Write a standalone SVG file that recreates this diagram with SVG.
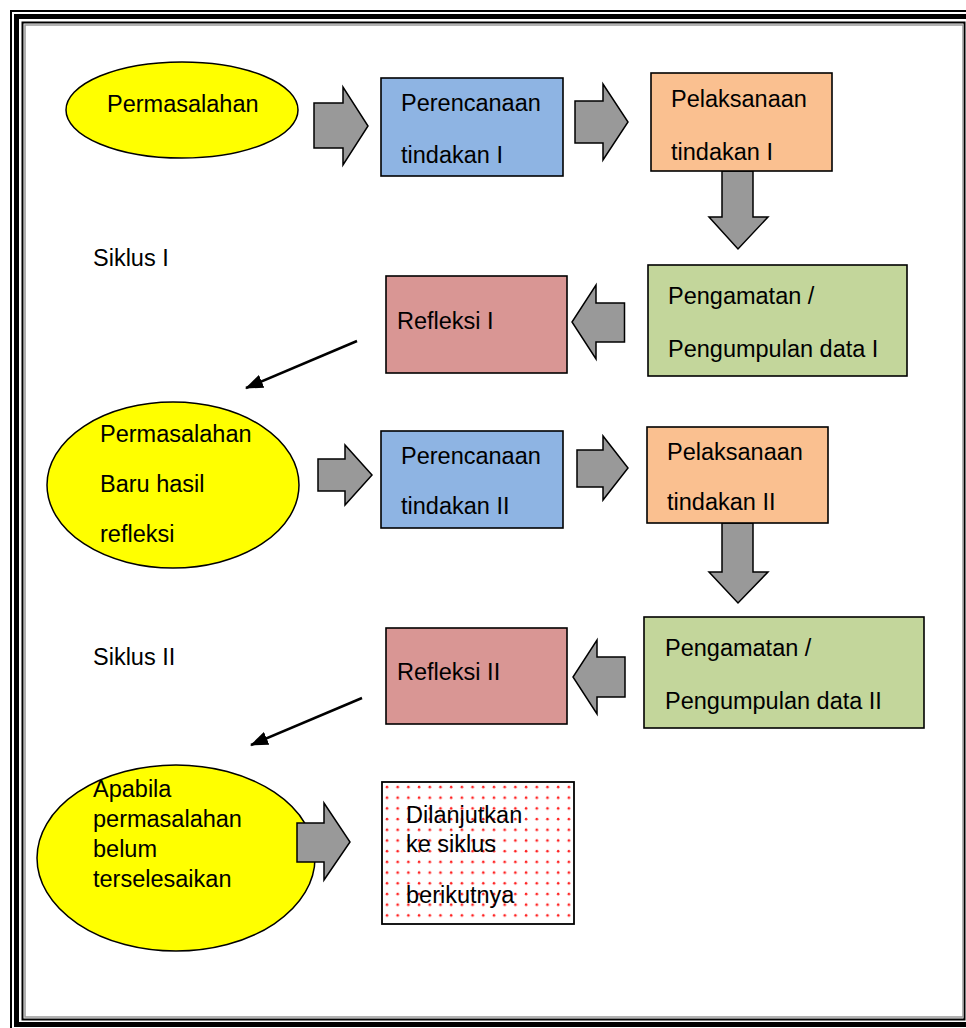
<svg xmlns="http://www.w3.org/2000/svg" width="966" height="1028" viewBox="0 0 966 1028">
<style>
text{font-family:"Liberation Sans",Arial,sans-serif;font-size:23.5px;fill:#000}
.ell{fill:#ffff00;stroke:#000;stroke-width:1.5}
.box{stroke:#000;stroke-width:1.6}
.blue{fill:#8eb4e3}.orange{fill:#fac090}.green{fill:#c3d69b}.red{fill:#d99694}
.blk{fill:#999;stroke:#000;stroke-width:1.5;stroke-linejoin:miter}
.thin{stroke:#000;stroke-width:2.5;fill:none}
</style>
<defs>
<pattern id="dots" x="382" y="782" width="10.7" height="10.7" patternUnits="userSpaceOnUse">
<circle cx="5" cy="5" r="1.3" fill="#ff2020"/>
</pattern>
<marker id="ah" markerWidth="10" markerHeight="8" refX="9" refY="4" orient="auto" markerUnits="userSpaceOnUse" viewBox="0 0 10 8">
<path d="M0,0 L10,4 L0,8 Z" fill="#000"/>
</marker>
<marker id="ah2" viewBox="0 0 18 14" refX="17" refY="7" markerWidth="18" markerHeight="14" orient="auto" markerUnits="userSpaceOnUse">
<path d="M0,0 L18,7 L0,14 Z" fill="#000"/>
</marker>
</defs>
<rect width="966" height="1028" fill="#fff"/>
<g id="frame" fill="none">
<rect x="11" y="11" width="970" height="1030" stroke="#000" stroke-width="2"/>
<rect x="16.5" y="16.5" width="960" height="1008" stroke="#000" stroke-width="5"/>
<rect x="22.5" y="22.5" width="942" height="997" stroke="#000" stroke-width="2"/>
<rect x="25" y="25" width="938" height="992" stroke="#999" stroke-width="1.5"/>
</g>
<g id="connectors">
<polygon class="blk" points="314,103 343,103 343,87 368,126 343,165 343,148 314,148"/>
<polygon class="blk" points="575,101 603,101 603,84 628,122 603,160 603,143 575,143"/>
<polygon class="blk" points="722,171 753,171 753,217 768,217 738,249 709,217 722,217"/>
<polygon class="blk" points="624.5,303 596,303 596,285 572,322 596,359 596,342 624.5,342"/>
<line class="thin" x1="357" y1="341" x2="246" y2="388" marker-end="url(#ah2)"/>
<polygon class="blk" points="318,459 345,459 345,445 372,475 345,505 345,491 318,491"/>
<polygon class="blk" points="577,450 603,450 603,436 628,468 603,500 603,487 577,487"/>
<polygon class="blk" points="722,523 753,523 753,572 768,572 738,603 709,572 722,572"/>
<polygon class="blk" points="625,657 597,657 597,640 573,677 597,714 597,697 625,697"/>
<line class="thin" x1="362" y1="698" x2="251" y2="745" marker-end="url(#ah2)"/>
</g>
<g id="n1"><ellipse class="ell" cx="182" cy="110" rx="116" ry="48"/><text x="107" y="112">Permasalahan</text></g>
<g id="n2"><rect class="box blue" x="381" y="78" width="182" height="98"/><text x="401" y="111">Perencanaan</text><text x="401" y="163">tindakan I</text></g>
<g id="n3"><rect class="box orange" x="651" y="73" width="181" height="98"/><text x="671" y="107">Pelaksanaan</text><text x="671" y="160">tindakan I</text></g>
<g id="n4"><rect class="box green" x="648" y="265" width="259" height="111"/><text x="668" y="304">Pengamatan /</text><text x="668" y="357">Pengumpulan data I</text></g>
<g id="n5"><rect class="box red" x="386" y="276" width="181" height="97"/><text x="397" y="329">Refleksi I</text></g>
<g id="lbl1"><text x="93" y="266">Siklus I</text></g>
<g id="n6"><ellipse class="ell" cx="173" cy="485" rx="126" ry="83"/><text x="100" y="442">Permasalahan</text><text x="100" y="492">Baru hasil</text><text x="100" y="542">refleksi</text></g>
<g id="n7"><rect class="box blue" x="381" y="431" width="182" height="97"/><text x="401" y="464">Perencanaan</text><text x="401" y="514">tindakan II</text></g>
<g id="n8"><rect class="box orange" x="647" y="427" width="181" height="96"/><text x="667" y="460">Pelaksanaan</text><text x="667" y="510">tindakan II</text></g>
<g id="n9"><rect class="box green" x="644" y="617" width="280" height="111"/><text x="665" y="656">Pengamatan /</text><text x="665" y="709">Pengumpulan data II</text></g>
<g id="n10"><rect class="box red" x="386" y="628" width="181" height="96"/><text x="397" y="680">Refleksi II</text></g>
<g id="lbl2"><text x="93" y="665">Siklus II</text></g>
<g id="n11"><ellipse class="ell" cx="176" cy="858" rx="139" ry="93"/><text x="93" y="797">Apabila</text><text x="93" y="827">permasalahan</text><text x="93" y="857">belum</text><text x="93" y="887">terselesaikan</text></g>
<polygon class="blk" points="297,823 324,823 324,803 350,842 324,880 324,862 297,862"/>
<g id="n12"><rect x="382" y="782" width="192" height="142" fill="#fff" stroke="#000" stroke-width="1.8"/><rect x="383" y="783" width="190" height="140" fill="url(#dots)"/><text x="406" y="823">Dilanjutkan</text><text x="406" y="852">ke siklus</text><text x="406" y="903">berikutnya</text></g>
</svg>
